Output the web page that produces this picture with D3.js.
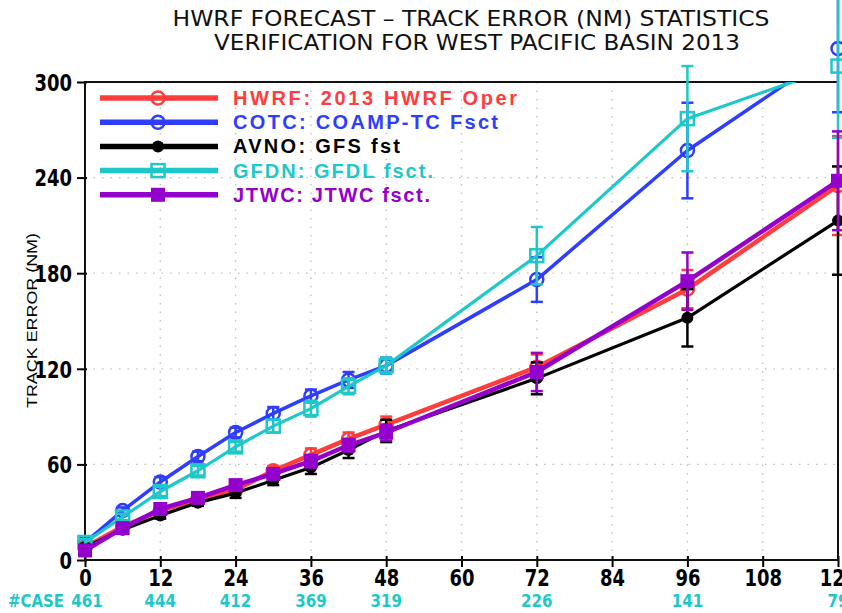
<!DOCTYPE html>
<html>
<head>
<meta charset="utf-8">
<script src="https://cdn.jsdelivr.net/npm/d3@7"></script>
<style>
  html, body { margin: 0; padding: 0; background: #fff; overflow: hidden; }
  svg { display: block; }
</style>
</head>
<body>
<svg id="chart" width="842" height="613"></svg>
<script>
const hours = [0, 6, 12, 18, 24, 30, 36, 42, 48, 72, 96, 120];

const hwrf = [8, 21, 31, 38, 44, 56, 66, 76, 85, 121, 170, 235];
const cotc = [11, 31, 49, 65, 80, 92, 103, 113, 122, 176, 257, 321];
const avno = [8, 19, 28, 36, 42, 50, 58, 69, 81, 114, 152, 213];
const gfdn = [11, 27, 43, 56, 71, 84, 95, 109, 122, 191, 277, 310];
const jtwc = [6, 20, 32, 39, 47, 54, 62, 72, 80, 118, 175, 238];

// half widths of the error bars
const hwrfErr = [2, 2, 2, 2, 3, 3, 4, 4, 5, 8, 12, 31];
const cotcErr = [2, 2, 3, 3, 3, 4, 4, 5, 5, 14, 30, 40];
const avnoErr = [2, 2, 2, 2, 3, 3, 4, 5, 7, 10, 18, 34];
const gfdnErr = [2, 2, 3, 3, 3, 4, 5, 5, 5, 18, 33, 45];
const jtwcErr = [2, 2, 2, 2, 3, 3, 4, 4, 5, 12, 18, 31];

const seriesLabels = [
  "HWRF: 2013 HWRF Oper",
  "COTC: COAMP-TC Fsct",
  "AVNO: GFS fst",
  "GFDN: GFDL fsct.",
  "JTWC: JTWC fsct.",
];

const caseHours = [0, 12, 24, 36, 48, 72, 96, 120];
const caseCounts = [461, 444, 412, 369, 319, 226, 141, 79];

const xTicks = [0, 12, 24, 36, 48, 60, 72, 84, 96, 108, 120];
const yTicks = [0, 60, 120, 180, 240, 300];

const titleLines = [
  "HWRF FORECAST \u2013 TRACK ERROR (NM) STATISTICS",
  "VERIFICATION FOR WEST PACIFIC BASIN 2013",
];

const series = [
  { label: seriesLabels[0], values: hwrf, err: hwrfErr, color: "#ff3d3d", width: 4.5, marker: "circle" },
  { label: seriesLabels[1], values: cotc, err: cotcErr, color: "#2f3dff", width: 3.5, marker: "circle" },
  { label: seriesLabels[2], values: avno, err: avnoErr, color: "#000000", width: 3.2, marker: "dot" },
  { label: seriesLabels[3], values: gfdn, err: gfdnErr, color: "#1ec8c8", width: 3.2, marker: "square" },
  { label: seriesLabels[4], values: jtwc, err: jtwcErr, color: "#9400cc", width: 4.5, marker: "filledSquare" },
];

const svg = d3.select("#chart");
const plot = { left: 85, right: 838, top: 82, bottom: 560 };
const narrow = "'Liberation Sans Narrow', 'DejaVu Sans Condensed', 'Liberation Sans', sans-serif";

const x = d3.scaleLinear().domain([0, 120]).range([plot.left, plot.right]);
const y = d3.scaleLinear().domain([0, 300]).range([plot.bottom, plot.top]);

svg.append("defs")
  .append("clipPath")
  .attr("id", "plotClip")
  .append("rect")
  .attr("x", plot.left)
  .attr("y", plot.top)
  .attr("width", plot.right - plot.left)
  .attr("height", plot.bottom - plot.top);

// title
svg.append("g")
  .selectAll("text")
  .data(titleLines)
  .join("text")
  .attr("x", (d, i) => (i === 0 ? 471 : 477))
  .attr("y", (d, i) => 26 + i * 24)
  .attr("text-anchor", "middle")
  .attr("font-family", narrow)
  .attr("font-size", 22)
  .attr("textLength", (d, i) => (i === 0 ? 597 : 526))
  .attr("lengthAdjust", "spacingAndGlyphs")
  .attr("fill", "#111")
  .text((d) => d);

// grid
const grid = svg.append("g")
  .attr("stroke", "#bdbdbd")
  .attr("stroke-width", 1.3)
  .attr("stroke-dasharray", "1.5,7");

grid.selectAll(".vgrid")
  .data(xTicks.filter((d) => d > 0 && d < 120))
  .join("line")
  .attr("x1", (d) => x(d))
  .attr("x2", (d) => x(d))
  .attr("y1", plot.top)
  .attr("y2", plot.bottom);

grid.selectAll(".hgrid")
  .data(yTicks.filter((d) => d > 0 && d < 300))
  .join("line")
  .attr("x1", plot.left)
  .attr("x2", plot.right)
  .attr("y1", (d) => y(d))
  .attr("y2", (d) => y(d));

// axes
const yAxis = svg.append("g")
  .attr("transform", `translate(${plot.left},0)`)
  .call(d3.axisLeft(y).tickValues(yTicks).tickSize(8).tickPadding(5).tickSizeOuter(0));

const xAxis = svg.append("g")
  .attr("transform", `translate(0,${plot.bottom})`)
  .call(d3.axisBottom(x).tickValues(xTicks).tickSize(7).tickPadding(5).tickSizeOuter(0));

[xAxis, yAxis].forEach((ax) => {
  ax.select(".domain").remove();
  ax.selectAll(".tick line").attr("stroke", "#000").attr("stroke-width", 2);
  ax.selectAll(".tick text")
    .attr("font-family", narrow)
    .attr("font-weight", "bold")
    .attr("font-size", 23)
    .attr("fill", "#000")
    .attr("textLength", (d) => String(d).length * 12.5)
    .attr("lengthAdjust", "spacingAndGlyphs");
});
yAxis.selectAll(".tick line").attr("x2", -8).attr("x1", 2);
xAxis.selectAll(".tick line").attr("y1", -4);
xAxis.selectAll(".tick text").attr("dy", "0.72em").attr("y", 9);
yAxis.selectAll(".tick text").attr("dy", "0.36em");

// frame
svg.append("rect")
  .attr("x", plot.left)
  .attr("y", plot.top)
  .attr("width", plot.right - plot.left)
  .attr("height", plot.bottom - plot.top)
  .attr("fill", "none")
  .attr("stroke", "#111")
  .attr("stroke-width", 2);

// y label
svg.append("text")
  .attr("transform", `translate(37,${(233 + 408) / 2}) rotate(-90)`)
  .attr("text-anchor", "middle")
  .attr("font-family", "'Liberation Sans', Arial, sans-serif")
  .attr("font-size", 15)
  .attr("textLength", 175)
  .attr("lengthAdjust", "spacingAndGlyphs")
  .attr("fill", "#000")
  .text("TRACK ERROR (NM)");

// case counts
svg.append("text")
  .attr("x", 8)
  .attr("y", 607)
  .attr("font-family", narrow)
  .attr("font-weight", "bold")
  .attr("font-size", 18)
  .attr("fill", "#1ec8c8")
  .attr("textLength", 56)
  .attr("lengthAdjust", "spacingAndGlyphs")
  .text("#CASE");

svg.append("g")
  .selectAll("text")
  .data(caseCounts)
  .join("text")
  .attr("x", (d, i) => x(caseHours[i]) + (i === 0 ? 2 : 0))
  .attr("y", 607)
  .attr("text-anchor", "middle")
  .attr("font-family", narrow)
  .attr("font-weight", "bold")
  .attr("font-size", 18)
  .attr("fill", "#1ec8c8")
  .attr("textLength", (d) => String(d).length * 10.5)
  .attr("lengthAdjust", "spacingAndGlyphs")
  .text((d) => d);

// x label, mostly below the visible window
svg.append("text")
  .attr("x", x(60))
  .attr("y", 628)
  .attr("text-anchor", "middle")
  .attr("font-family", "'Liberation Sans', Arial, sans-serif")
  .attr("font-size", 20)
  .attr("fill", "#444")
  .text("Forecast Lead Time (h)");

function drawMarker(g, kind, cx, cy, color) {
  if (kind === "circle") {
    g.append("circle").attr("cx", cx).attr("cy", cy).attr("r", 6.5)
      .attr("fill", "none").attr("stroke", color).attr("stroke-width", 2.5);
  } else if (kind === "dot") {
    g.append("circle").attr("cx", cx).attr("cy", cy).attr("r", 6)
      .attr("fill", color);
  } else if (kind === "square") {
    g.append("rect").attr("x", cx - 6.5).attr("y", cy - 6.5).attr("width", 13).attr("height", 13)
      .attr("fill", "none").attr("stroke", color).attr("stroke-width", 2.5);
  } else {
    g.append("rect").attr("x", cx - 7).attr("y", cy - 7).attr("width", 14).attr("height", 14)
      .attr("fill", color);
  }
}

const line = d3.line()
  .x((d, i) => x(hours[i]))
  .y((d) => y(d));

series.forEach((s) => {
  const g = svg.append("g");

  g.append("path")
    .datum(s.values)
    .attr("clip-path", "url(#plotClip)")
    .attr("d", line)
    .attr("fill", "none")
    .attr("stroke", s.color)
    .attr("stroke-width", s.width)
    .attr("stroke-linejoin", "round");

  const bars = g.append("g").attr("stroke", s.color).attr("stroke-width", 2.5);
  s.values.forEach((v, i) => {
    const cx = x(hours[i]);
    const lo = y(v - s.err[i]);
    const hi = y(v + s.err[i]);
    bars.append("line").attr("x1", cx).attr("x2", cx).attr("y1", lo).attr("y2", hi);
    bars.append("line").attr("x1", cx - 6).attr("x2", cx + 6).attr("y1", lo).attr("y2", lo);
    bars.append("line").attr("x1", cx - 6).attr("x2", cx + 6).attr("y1", hi).attr("y2", hi);
  });

  s.values.forEach((v, i) => drawMarker(g, s.marker, x(hours[i]), y(v), s.color));
});

// legend
const legendTextLen = [284, 265, 167, 200, 197];
const legend = svg.append("g");
series.forEach((s, i) => {
  const ly = 98 + i * 24.2;
  const row = legend.append("g");
  row.append("line")
    .attr("x1", 100).attr("x2", 218)
    .attr("y1", ly).attr("y2", ly)
    .attr("stroke", s.color).attr("stroke-width", 5.5);
  drawMarker(row, s.marker, 158, ly, s.color);
  row.append("text")
    .attr("x", 233)
    .attr("y", ly + 7)
    .attr("font-family", "'Liberation Sans', Arial, sans-serif")
    .attr("font-weight", "bold")
    .attr("font-size", 20)
    .attr("fill", s.color)
    .attr("textLength", legendTextLen[i])
    .attr("lengthAdjust", "spacing")
    .text(s.label);
});
</script>
</body>
</html>
